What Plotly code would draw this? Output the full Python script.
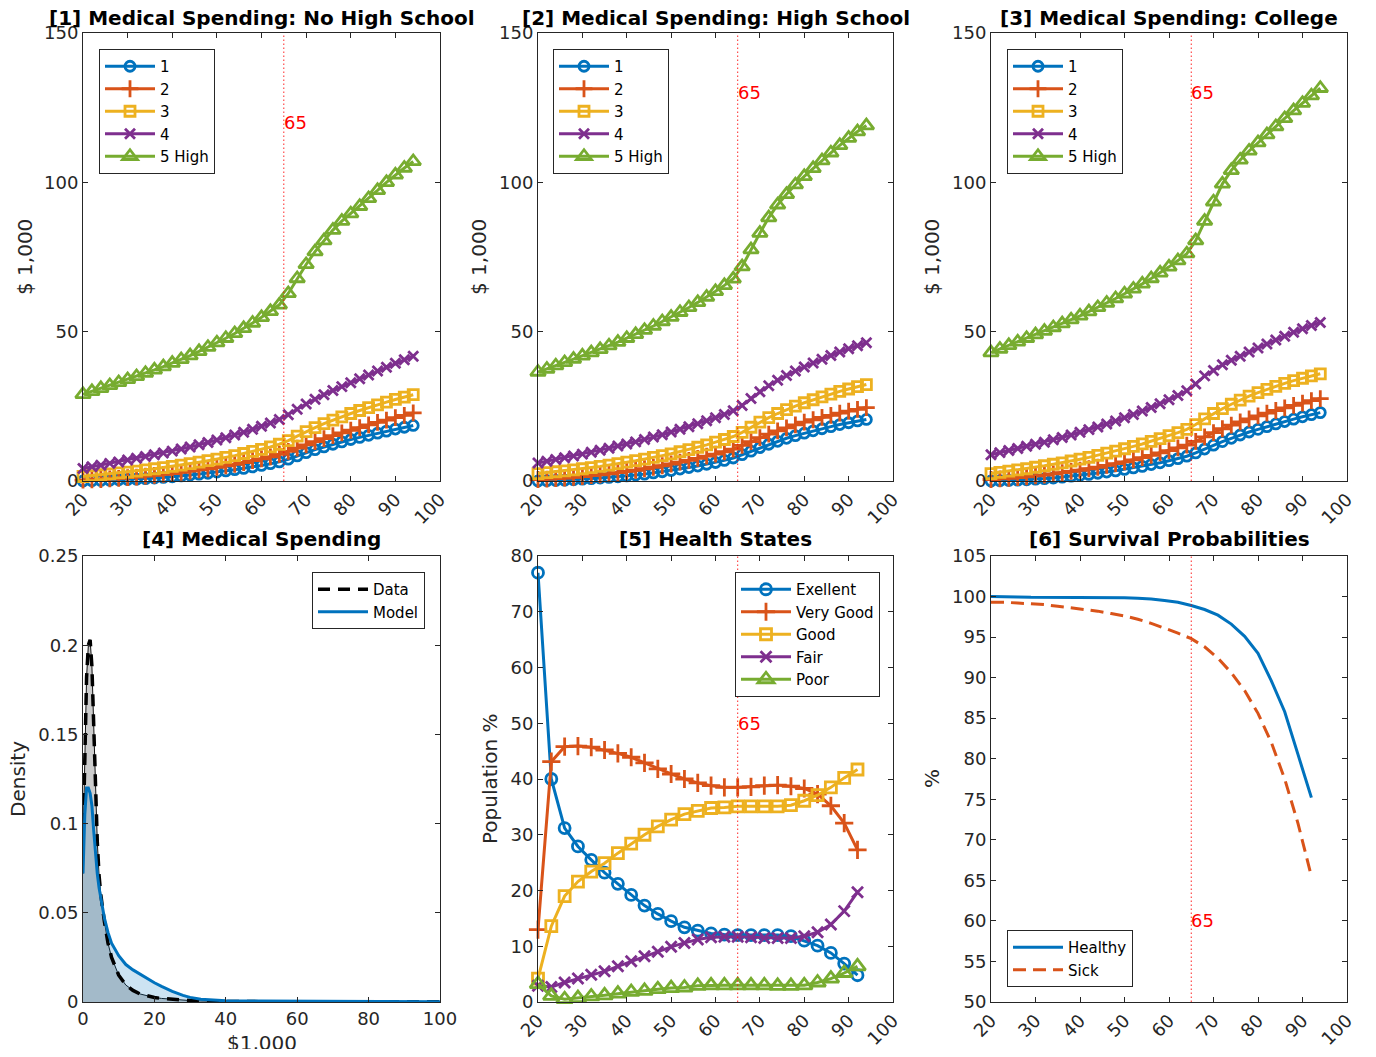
import plotly.graph_objects as go

# ---------------- data ----------------
AGES_2Y = list(range(20, 95, 2))          # panels 1-3
AGES_3Y = list(range(20, 93, 3))          # panels 5-6
QUINT_NAMES = ["1", "2", "3", "4", "5 High"]

# Panel 1: No High School
NHS_Q1 = [0.0, 0.1, 0.2, 0.3, 0.4, 0.5, 0.6, 0.8, 1.0, 1.2, 1.4, 1.7, 2.0, 2.3, 2.6, 3.0, 3.4, 3.8, 4.2,
          4.7, 5.2, 5.8, 6.4, 7.3, 8.4, 9.5, 10.5, 11.4, 12.3, 13.1, 13.9, 14.6, 15.3, 16.0, 16.7, 17.4, 18.0, 18.6]
NHS_Q2 = [0.3, 0.4, 0.5, 0.7, 0.9, 1.1, 1.3, 1.6, 1.9, 2.2, 2.5, 2.9, 3.3, 3.7, 4.1, 4.6, 5.1, 5.6, 6.2,
          6.8, 7.4, 8.1, 8.9, 9.9, 11.0, 12.1, 13.2, 14.2, 15.2, 16.1, 17.0, 17.9, 18.8, 19.6, 20.4, 21.2, 22.0, 22.8]
NHS_Q3 = [1.5, 1.8, 2.1, 2.4, 2.7, 3.0, 3.3, 3.7, 4.1, 4.5, 4.9, 5.3, 5.8, 6.3, 6.8, 7.3, 7.9, 8.5, 9.2,
          9.9, 10.6, 11.4, 12.3, 13.5, 15.0, 16.5, 17.9, 19.2, 20.4, 21.5, 22.6, 23.6, 24.6, 25.5, 26.4, 27.3, 28.1, 28.9]
NHS_Q4 = [4.2, 4.8, 5.3, 5.9, 6.4, 7.0, 7.6, 8.2, 8.8, 9.4, 10.0, 10.7, 11.4, 12.1, 12.9, 13.7, 14.5, 15.4, 16.3,
          17.3, 18.3, 19.4, 20.6, 22.2, 24.0, 25.8, 27.4, 28.9, 30.3, 31.6, 32.9, 34.2, 35.5, 36.8, 38.1, 39.4, 40.6, 41.8]
NHS_Q5 = [29.0, 30.0, 31.0, 32.0, 33.0, 34.0, 35.0, 36.1, 37.2, 38.3, 39.5, 40.7, 42.0, 43.4, 44.8, 46.3, 47.8, 49.4, 51.1,
          52.9, 54.8, 56.8, 59.0, 62.8, 67.8, 72.5, 76.8, 80.5, 84.0, 87.0, 89.5, 92.0, 94.6, 97.3, 100.0, 102.5, 104.8, 107.0]

# Panel 2: High School
HS_Q1 = [0.0, 0.1, 0.2, 0.3, 0.4, 0.6, 0.8, 1.0, 1.2, 1.4, 1.7, 2.0, 2.3, 2.7, 3.1, 3.5, 4.0, 4.5, 5.0,
         5.6, 6.2, 6.9, 7.7, 8.8, 10.0, 11.2, 12.3, 13.3, 14.3, 15.2, 16.0, 16.8, 17.5, 18.2, 18.9, 19.5, 20.1, 20.6]
HS_Q2 = [0.5, 0.6, 0.8, 1.0, 1.2, 1.5, 1.8, 2.1, 2.4, 2.8, 3.2, 3.6, 4.1, 4.6, 5.1, 5.7, 6.3, 6.9, 7.6,
         8.3, 9.0, 9.8, 10.7, 11.9, 13.2, 14.5, 15.7, 16.8, 17.8, 18.8, 19.7, 20.5, 21.3, 22.0, 22.7, 23.4, 24.0, 24.6]
HS_Q3 = [2.5, 2.8, 3.1, 3.4, 3.7, 4.1, 4.5, 4.9, 5.3, 5.8, 6.3, 6.8, 7.3, 7.9, 8.5, 9.1, 9.8, 10.5, 11.3,
         12.1, 13.0, 13.9, 14.9, 16.3, 18.0, 19.7, 21.2, 22.6, 23.9, 25.1, 26.2, 27.2, 28.2, 29.1, 30.0, 30.8, 31.6, 32.3]
HS_Q4 = [6.0, 6.6, 7.2, 7.8, 8.4, 9.0, 9.6, 10.3, 11.0, 11.7, 12.4, 13.1, 13.9, 14.7, 15.5, 16.4, 17.3, 18.2, 19.2,
         20.2, 21.2, 22.3, 23.5, 25.3, 27.6, 29.9, 31.9, 33.7, 35.3, 36.8, 38.2, 39.5, 40.8, 42.0, 43.2, 44.3, 45.3, 46.3]
HS_Q5 = [36.5, 37.5, 38.6, 39.7, 40.8, 41.9, 43.0, 44.1, 45.3, 46.5, 47.8, 49.1, 50.5, 51.9, 53.4, 54.9, 56.5, 58.1, 59.8,
         61.6, 63.5, 65.5, 67.7, 71.8, 77.5, 83.0, 88.2, 92.5, 96.0, 99.2, 102.0, 104.7, 107.3, 109.9, 112.4, 114.8, 117.0, 119.0]

# Panel 3: College
CO_Q1 = [0.0, 0.1, 0.2, 0.3, 0.4, 0.6, 0.8, 1.0, 1.3, 1.6, 1.9, 2.2, 2.6, 3.0, 3.4, 3.9, 4.4, 4.9, 5.5,
         6.1, 6.8, 7.5, 8.3, 9.4, 10.7, 12.0, 13.2, 14.3, 15.4, 16.4, 17.3, 18.2, 19.1, 19.9, 20.7, 21.5, 22.2, 22.9]
CO_Q2 = [0.5, 0.7, 0.9, 1.1, 1.4, 1.7, 2.0, 2.4, 2.8, 3.2, 3.6, 4.1, 4.6, 5.2, 5.8, 6.4, 7.1, 7.8, 8.6,
         9.4, 10.2, 11.1, 12.0, 13.3, 14.8, 16.2, 17.5, 18.7, 19.8, 20.8, 21.8, 22.7, 23.6, 24.5, 25.3, 26.1, 26.9, 27.6]
CO_Q3 = [2.5, 2.9, 3.3, 3.7, 4.1, 4.6, 5.1, 5.6, 6.1, 6.7, 7.3, 7.9, 8.6, 9.3, 10.0, 10.8, 11.6, 12.4, 13.3,
         14.2, 15.2, 16.2, 17.3, 18.9, 20.8, 22.6, 24.2, 25.7, 27.1, 28.4, 29.6, 30.7, 31.7, 32.7, 33.6, 34.4, 35.2, 35.9]
CO_Q4 = [8.8, 9.5, 10.2, 10.9, 11.6, 12.3, 13.0, 13.8, 14.6, 15.4, 16.3, 17.2, 18.1, 19.1, 20.1, 21.2, 22.3, 23.4, 24.6,
         25.9, 27.2, 28.6, 30.2, 32.5, 35.2, 37.0, 38.9, 40.4, 41.8, 43.2, 44.5, 45.9, 47.2, 48.5, 49.8, 51.0, 52.1, 53.1]
CO_Q5 = [43.0, 44.2, 45.4, 46.6, 47.8, 49.0, 50.2, 51.4, 52.7, 54.0, 55.3, 56.7, 58.1, 59.6, 61.1, 62.7, 64.3, 66.0, 67.8,
         69.7, 71.7, 73.8, 76.1, 80.5, 87.0, 93.5, 99.5, 104.0, 107.5, 110.5, 113.3, 116.0, 118.7, 121.4, 124.0, 126.5, 129.0, 131.5]

# Panel 4: density of medical spending ($1,000)
DENS_X = [0, 0.5, 1, 1.5, 2, 2.5, 3, 3.5, 4, 4.5, 5, 6, 7, 8, 10, 12, 14, 16, 18, 20, 22, 25, 28, 30,
          33, 36, 40, 50, 60, 70, 80, 90, 100]
DENS_DATA = [0.088, 0.140, 0.182, 0.200, 0.203, 0.188, 0.152, 0.117, 0.090, 0.071, 0.060, 0.045, 0.033, 0.025,
             0.015, 0.0095, 0.0065, 0.0045, 0.0033, 0.0025, 0.0020, 0.0014, 0.0010, 0.0008, 0.0006, 0.0004,
             0.0003, 0.0002, 0.0001, 0.0001, 0.0001, 0.0001, 0.0001]
DENS_MODEL = [0.072, 0.105, 0.120, 0.120, 0.117, 0.110, 0.096, 0.083, 0.072, 0.064, 0.058, 0.047, 0.039, 0.033,
              0.026, 0.021, 0.018, 0.0155, 0.013, 0.0108, 0.0088, 0.0060, 0.0037, 0.0026, 0.0015, 0.0010,
              0.0007, 0.0005, 0.0004, 0.0003, 0.0003, 0.0002, 0.0002]

# Panel 5: health states (population %)
HS_NAMES = ["Exellent", "Very Good", "Good", "Fair", "Poor"]
H_EXC = [77.0, 40.0, 31.2, 27.9, 25.5, 23.2, 21.2, 19.2, 17.3, 15.8, 14.5, 13.4, 12.8, 12.3, 12.1, 12.0, 12.0,
         12.0, 12.0, 11.8, 11.0, 10.1, 8.8, 6.9, 4.8]
H_VG = [13.0, 43.1, 45.8, 45.9, 45.7, 45.2, 44.6, 43.9, 42.9, 41.8, 40.9, 40.0, 39.3, 38.8, 38.5, 38.5, 38.6,
        38.8, 38.9, 38.7, 38.3, 37.3, 35.2, 32.1, 27.3]
H_GOOD = [4.2, 13.6, 19.0, 21.6, 23.4, 24.9, 26.7, 28.4, 30.0, 31.5, 32.7, 33.7, 34.3, 34.8, 34.9, 35.1, 35.1,
          35.1, 35.1, 35.3, 36.1, 37.1, 38.5, 40.2, 41.7]
H_FAIR = [2.9, 2.7, 3.5, 4.2, 4.9, 5.5, 6.4, 7.3, 8.2, 9.0, 9.9, 10.6, 11.2, 11.6, 11.7, 11.7, 11.6, 11.5, 11.5,
          11.5, 11.8, 12.5, 13.9, 16.3, 19.7]
H_POOR = [3.2, 1.1, 0.5, 0.7, 1.0, 1.2, 1.5, 1.8, 2.0, 2.3, 2.5, 2.6, 2.9, 3.0, 3.0, 3.0, 3.0, 3.0, 2.9, 2.9,
          3.0, 3.5, 4.2, 5.2, 6.4]

# Panel 6: survival probabilities (%)
SURV_HEALTHY = [100.0, 100.0, 99.95, 99.9, 99.9, 99.9, 99.9, 99.9, 99.9, 99.9, 99.85, 99.8, 99.7, 99.5, 99.3,
                98.9, 98.4, 97.7, 96.6, 95.1, 93.0, 89.6, 85.8, 80.5, 75.2]
SURV_SICK = [99.3, 99.3, 99.2, 99.1, 99.0, 98.8, 98.6, 98.4, 98.2, 97.9, 97.6, 97.2, 96.7, 96.1, 95.5, 94.8,
             93.8, 92.4, 90.6, 88.4, 85.6, 82.0, 77.5, 72.0, 65.5]

RETIRE_AGE = 65

# ---------------- style ----------------
C = ["#0072BD", "#D95319", "#EDB120", "#7E2F8E", "#77AC30"]
SYMS = ["circle-open", "cross-thin-open", "square-open", "x-thin-open", "triangle-up-open"]
MSIZE = [10, 12, 10, 10, 13]
FONT = "DejaVu Sans"
AX_COL = "#262626"

# page body has an 8px margin: the figure is placed so it fills the 1376x1057 window
OFF = 8
FW, FH = 1376 - 2 * OFF, 1057 - 2 * OFF


def px(x):
    return (x - OFF) / FW


def py(y):
    return 1 - (y - OFF) / FH


XD = [(px(83), px(440)), (px(538), px(893)), (px(991), px(1347))]
YD_TOP = (py(481), py(33))
YD_BOT = (py(1002), py(556))

fig = go.Figure()


def axis_common():
    return dict(showline=True, linecolor=AX_COL, linewidth=1, mirror="ticks", ticks="inside",
                ticklen=5, tickcolor=AX_COL, tickwidth=1, showgrid=False, zeroline=False,
                automargin=False,
                tickfont=dict(family=FONT, size=18, color=AX_COL))


layout_axes = {}
for i in range(6):
    r, c = divmod(i, 3)
    xa = axis_common()
    ya = axis_common()
    xa.update(domain=XD[c], anchor="y%d" % (i + 1) if i else "y")
    ya.update(domain=YD_TOP if r == 0 else YD_BOT, anchor="x%d" % (i + 1) if i else "x")
    layout_axes["xaxis%s" % ("" if i == 0 else i + 1)] = xa
    layout_axes["yaxis%s" % ("" if i == 0 else i + 1)] = ya

# top row axes
for i in range(3):
    k = "" if i == 0 else str(i + 1)
    layout_axes["xaxis" + k].update(range=[20, 100], tickvals=list(range(20, 101, 10)), tickangle=-45)
    layout_axes["yaxis" + k].update(range=[0, 150], tickvals=[0, 50, 100, 150])
# panel 4
layout_axes["xaxis4"].update(range=[0, 100], tickvals=list(range(0, 101, 20)), tickangle=0)
layout_axes["yaxis4"].update(range=[0, 0.25], tickvals=[0, 0.05, 0.1, 0.15, 0.2, 0.25],
                             ticktext=["0", "0.05", "0.1", "0.15", "0.2", "0.25"])
# panel 5
layout_axes["xaxis5"].update(range=[20, 100], tickvals=list(range(20, 101, 10)), tickangle=-45)
layout_axes["yaxis5"].update(range=[0, 80], tickvals=list(range(0, 81, 10)))
# panel 6
layout_axes["xaxis6"].update(range=[20, 100], tickvals=list(range(20, 101, 10)), tickangle=-45)
layout_axes["yaxis6"].update(range=[50, 105], tickvals=list(range(50, 106, 5)))

# ---- panels 1-3
panels = [
    [NHS_Q1, NHS_Q2, NHS_Q3, NHS_Q4, NHS_Q5],
    [HS_Q1, HS_Q2, HS_Q3, HS_Q4, HS_Q5],
    [CO_Q1, CO_Q2, CO_Q3, CO_Q4, CO_Q5],
]
for p, series in enumerate(panels):
    xr = "x" if p == 0 else "x%d" % (p + 1)
    yr = "y" if p == 0 else "y%d" % (p + 1)
    lg = "legend" if p == 0 else "legend%d" % (p + 1)
    for j, vals in enumerate(series):
        fig.add_trace(go.Scatter(
            x=AGES_2Y, y=vals, mode="lines+markers", name=QUINT_NAMES[j],
            line=dict(color=C[j], width=3),
            marker=dict(symbol=SYMS[j], size=MSIZE[j], color=C[j], line=dict(color=C[j], width=2.8)),
            xaxis=xr, yaxis=yr, legend=lg, cliponaxis=False))

# ---- panel 4
fig.add_trace(go.Scatter(x=DENS_X, y=DENS_DATA, mode="lines", fill="tozeroy",
                         fillcolor="rgba(0,0,0,0.2)", line=dict(color="#111111", width=1),
                         showlegend=False, xaxis="x4", yaxis="y4"))
fig.add_trace(go.Scatter(x=DENS_X, y=DENS_MODEL, mode="lines", fill="tozeroy",
                         fillcolor="rgba(0,114,189,0.2)", line=dict(color="#111111", width=1),
                         showlegend=False, xaxis="x4", yaxis="y4"))
fig.add_trace(go.Scatter(x=DENS_X, y=DENS_DATA, mode="lines", name="Data",
                         line=dict(color="black", width=3.5, dash="12px,8px"),
                         xaxis="x4", yaxis="y4", legend="legend4"))
fig.add_trace(go.Scatter(x=DENS_X, y=DENS_MODEL, mode="lines", name="Model",
                         line=dict(color=C[0], width=3),
                         xaxis="x4", yaxis="y4", legend="legend4"))

# ---- panel 5
for j, vals in enumerate([H_EXC, H_VG, H_GOOD, H_FAIR, H_POOR]):
    fig.add_trace(go.Scatter(
        x=AGES_3Y, y=vals, mode="lines+markers", name=HS_NAMES[j],
        line=dict(color=C[j], width=3),
        marker=dict(symbol=SYMS[j], size=MSIZE[j] + 1, color=C[j], line=dict(color=C[j], width=2.8)),
        xaxis="x5", yaxis="y5", legend="legend5", cliponaxis=False))

# ---- panel 6
fig.add_trace(go.Scatter(x=AGES_3Y, y=SURV_HEALTHY, mode="lines", name="Healthy",
                         line=dict(color=C[0], width=3), xaxis="x6", yaxis="y6", legend="legend6"))
fig.add_trace(go.Scatter(x=AGES_3Y, y=SURV_SICK, mode="lines", name="Sick",
                         line=dict(color=C[1], width=3, dash="13px,7px"),
                         xaxis="x6", yaxis="y6", legend="legend6"))

# ---- vertical 65 lines and labels
shapes = []
annotations = []
label_y = {"": 120, "2": 130, "3": 130, "5": 50, "6": 60}
for k, ly in label_y.items():
    xr = "x" + k
    yr = "y" + k
    shapes.append(dict(type="line", xref=xr, yref=yr + " domain", x0=RETIRE_AGE, x1=RETIRE_AGE,
                       y0=0, y1=1, line=dict(color="rgba(255,0,0,0.85)", width=1, dash="1.5px,2.5px"),
                       layer="above"))
    annotations.append(dict(x=RETIRE_AGE, y=ly, xref=xr, yref=yr, text=str(RETIRE_AGE), showarrow=False,
                            xanchor="left", yanchor="middle", xshift=-2,
                            font=dict(family=FONT, size=18, color="red")))

# titles
titles = ["[1] Medical Spending: No High School", "[2] Medical Spending: High School",
          "[3] Medical Spending: College", "[4] Medical Spending", "[5] Health States",
          "[6] Survival Probabilities"]
for i, t in enumerate(titles):
    r, c = divmod(i, 3)
    ypix = 18 if r == 0 else 539
    annotations.append(dict(x=(XD[c][0] + XD[c][1]) / 2, y=py(ypix), xref="paper", yref="paper",
                            text="<b>%s</b>" % t, showarrow=False, xanchor="center", yanchor="middle",
                            borderpad=0, font=dict(family=FONT, size=20, color="black")))

# axis labels
ylabels = [("$ 1,000", 25, 257), ("$ 1,000", 479, 257), ("$ 1,000", 932, 257),
           ("Density", 18, 779), ("Population %", 490, 779), ("%", 932, 779)]
for t, xp, yp in ylabels:
    annotations.append(dict(x=px(xp), y=py(yp), xref="paper", yref="paper", text=t, showarrow=False,
                            textangle=-90, xanchor="center", yanchor="middle",
                            font=dict(family=FONT, size=20, color=AX_COL)))
annotations.append(dict(x=px(262), y=py(1043), xref="paper", yref="paper", text="$1,000",
                        showarrow=False, xanchor="center", yanchor="middle",
                        font=dict(family=FONT, size=20, color=AX_COL)))


def legend_box(x, y, xa, ya):
    return dict(x=x, y=y, xanchor=xa, yanchor=ya, xref="paper", yref="paper",
                bgcolor="white", bordercolor=AX_COL, borderwidth=1,
                font=dict(family=FONT, size=15, color="black"), tracegroupgap=0,
                itemwidth=50)


fig.update_layout(
    width=FW, height=FH, margin=dict(l=0, r=0, t=0, b=0, autoexpand=False),
    paper_bgcolor="white", plot_bgcolor="white",
    font=dict(family=FONT, size=18, color=AX_COL),
    shapes=shapes, annotations=annotations,
    legend=legend_box(px(99), py(49), "left", "top"),
    legend2=legend_box(px(553), py(49), "left", "top"),
    legend3=legend_box(px(1007), py(49), "left", "top"),
    legend4=legend_box(px(425), py(572), "right", "top"),
    legend5=legend_box(px(880), py(572), "right", "top"),
    legend6=legend_box(px(1007), py(987), "left", "bottom"),
    **layout_axes,
)

fig.write_html("out.html")
